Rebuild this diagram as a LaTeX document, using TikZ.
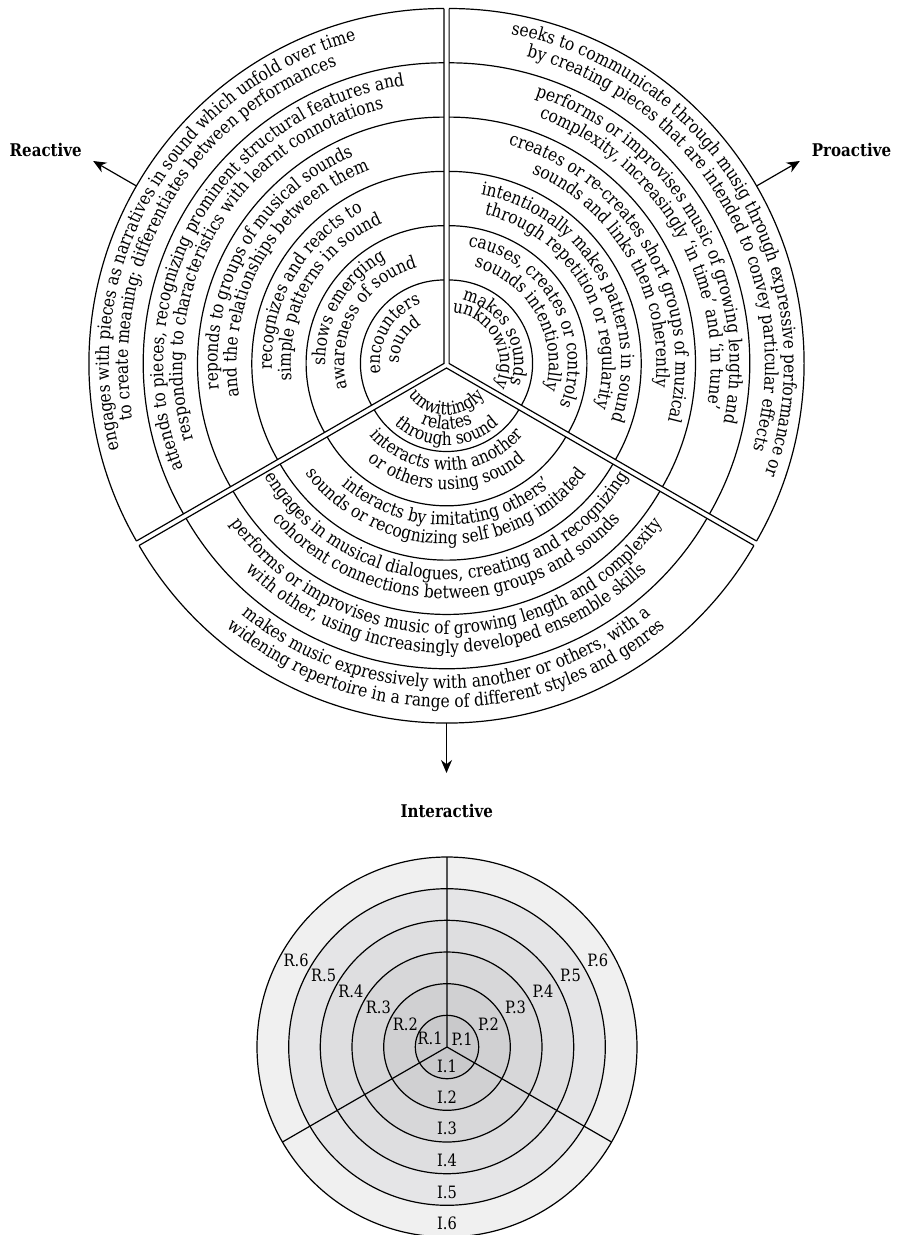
\documentclass[tikz,border=0pt]{standalone}
\usepackage{fontspec}
\setmainfont[FakeStretch=0.86]{DejaVu Serif}
\usetikzlibrary{arrows.meta,decorations.text}
\definecolor{ringsix}{RGB}{240,240,240}
\definecolor{ringfive}{RGB}{229,229,231}
\definecolor{ringfour}{RGB}{222,222,224}
\definecolor{ringthree}{RGB}{215,215,217}
\definecolor{ringtwo}{RGB}{208,208,210}
\definecolor{ringone}{RGB}{201,201,203}
\newcommand{\ringfont}{\fontsize{18pt}{20pt}\selectfont}
% text on an arc, centred on angle #1, radius #2
\newcommand{\cwtext}[3]{\path[decorate,decoration={text along path,text align=center,text={|\ringfont|#3}}] ({#1+65}:#2) arc[start angle={#1+65}, end angle={#1-65}, radius=#2];}
\newcommand{\ccwtext}[3]{\path[decorate,decoration={text along path,text align=center,text={|\ringfont|#3}}] ({#1-65}:#2) arc[start angle={#1-65}, end angle={#1+65}, radius=#2];}
\tikzstyle{ringline} = [line width=1.2pt]
\tikzstyle{arrow} = [line width=1.2pt,->,>={Stealth[length=13pt,width=11pt]}]
\tikzstyle{category} = [font=\fontsize{17.5pt}{20pt}\selectfont\bfseries, inner sep=0pt]
\tikzstyle{ringtag} = [font=\fontsize{17pt}{20pt}\selectfont, inner sep=0pt]

\begin{document}
\begin{tikzpicture}[x=1pt,y=1pt]
\useasboundingbox (0,0) rectangle (899,-1235);

% upper chart
\begin{scope}[shift={(446.5,-365)}]
% reactive
\begin{scope}[shift={(150:3)}]
\foreach \r in {83.5,137.8,192.1,246.4,300.7,355}
  \draw[ringline] (90:\r) arc[start angle=90, end angle=210, radius=\r];
\draw[ringline] (90:355) -- (0,0) -- (210:355);
\cwtext{150}{335}{engages with pieces as narratives in sound which unfold over time}
\cwtext{150}{316}{to create meaning; differentiates between performances}
\cwtext{150}{280.7}{attends to pieces, recognizing prominent structural features and}
\cwtext{150}{261.7}{responding to characteristics with learnt connotations}
\cwtext{150}{226.4}{reponds to groups of musical sounds}
\cwtext{150}{207.4}{and the relationships between them}
\cwtext{150}{172.1}{recognizes and reacts to}
\cwtext{150}{153.1}{simple patterns in sound}
\cwtext{150}{118.8}{shows emerging}
\cwtext{150}{99.8}{awareness of sound}
\cwtext{150}{64}{encounters}
\cwtext{150}{45}{sound}
\coordinate (reBase) at (150:355);
\coordinate (reTip) at (150:405);
\end{scope}
% proactive
\begin{scope}[shift={(30:3)}]
\foreach \r in {83.5,137.8,192.1,246.4,300.7,355}
  \draw[ringline] (90:\r) arc[start angle=90, end angle=-30, radius=\r];
\draw[ringline] (90:355) -- (0,0) -- (-30:355);
\cwtext{30}{335}{seeks to communicate through musig through expressive performance or}
\cwtext{30}{316}{by creating pieces that are intended to convey particular effects}
\cwtext{30}{280.7}{performs or improvises music of growing length and}
\cwtext{30}{261.7}{complexity, increasingly ‘in time’ and ‘in tune’}
\cwtext{30}{226.4}{creates or re-creates short groups of muzical}
\cwtext{30}{207.4}{sounds and links them coherently}
\cwtext{30}{172.1}{intentionally makes patterns in sound}
\cwtext{30}{153.1}{through repetition or regularity}
\cwtext{30}{118.8}{causes, creates or controls}
\cwtext{30}{99.8}{sounds intentionally}
\cwtext{30}{65}{makes sounds}
\cwtext{30}{51}{unknowingly}
\coordinate (proBase) at (30:355);
\coordinate (proTip) at (30:405);
\end{scope}
% interactive
\begin{scope}[shift={(270:3)}]
\foreach \r in {83.5,137.8,192.1,246.4,300.7,355}
  \draw[ringline] (210:\r) arc[start angle=210, end angle=330, radius=\r];
\draw[ringline] (210:355) -- (0,0) -- (330:355);
\ccwtext{270}{47}{unwittingly}
\ccwtext{270}{61.5}{relates}
\ccwtext{270}{77}{through sound}
\ccwtext{270}{102.5}{interacts with another}
\ccwtext{270}{121.5}{or others using sound}
\ccwtext{270}{157}{interacts by imitating others’}
\ccwtext{270}{176}{sounds or recognizing self being imitated}
\ccwtext{270}{211.5}{engages in musical dialogues, creating and recognizing}
\ccwtext{270}{230.5}{cohorent connections between groups and sounds}
\ccwtext{270}{266}{performs or improvises music of growing length and complexity}
\ccwtext{270}{285}{with other, using increasingly developed ensemble skills}
\ccwtext{270}{320.5}{makes music expressively with another or others, with a}
\ccwtext{270}{339.5}{widening repertoire in a range of different styles and genres}
\coordinate (intBase) at (270:355);
\coordinate (intTip) at (270:405);
\end{scope}
\end{scope}

\node (reactive) [category] at (45.7,-149.5) {Reactive};
\node (proactive) [category] at (851.5,-149.5) {Proactive};
\node (interactive) [category] at (446.7,-811) {Interactive};
\draw [arrow] (reBase) -- (reTip);
\draw [arrow] (proBase) -- (proTip);
\draw [arrow] (intBase) -- (intTip);

% lower chart
\begin{scope}[shift={(447,-1047)}]
\draw[ringline, fill=ringsix] (0,0) circle[radius=190];
\draw[ringline, fill=ringfive] (0,0) circle[radius=158.3];
\draw[ringline, fill=ringfour] (0,0) circle[radius=126.7];
\draw[ringline, fill=ringthree] (0,0) circle[radius=95];
\draw[ringline, fill=ringtwo] (0,0) circle[radius=63.3];
\draw[ringline, fill=ringone] (0,0) circle[radius=31.7];
\draw[ringline] (90:190) -- (0,0) -- (210:190);
\draw[ringline] (0,0) -- (330:190);
\node (rsix) [ringtag] at (150:174.2) {R.6};
\node (rfive) [ringtag] at (150:142.5) {R.5};
\node (rfour) [ringtag] at (150:110.9) {R.4};
\node (rthree) [ringtag] at (150:79.2) {R.3};
\node (rtwo) [ringtag] at (151:47.5) {R.2};
\node (rone) [ringtag] at (154:18.8) {R.1};
\node (psix) [ringtag] at (30:174.2) {P.6};
\node (pfive) [ringtag] at (30:142.5) {P.5};
\node (pfour) [ringtag] at (30:110.9) {P.4};
\node (pthree) [ringtag] at (30:79.2) {P.3};
\node (ptwo) [ringtag] at (29:47.5) {P.2};
\node (pone) [ringtag] at (27:17) {P.1};
\node (isix) [ringtag] at (270:176.7) {I.6};
\node (ifive) [ringtag] at (270:145) {I.5};
\node (ifour) [ringtag] at (270:113.4) {I.4};
\node (ithree) [ringtag] at (270:81.7) {I.3};
\node (itwo) [ringtag] at (270:50) {I.2};
\node (ione) [ringtag] at (270:19.5) {I.1};
\end{scope}
\end{tikzpicture}
\end{document}
